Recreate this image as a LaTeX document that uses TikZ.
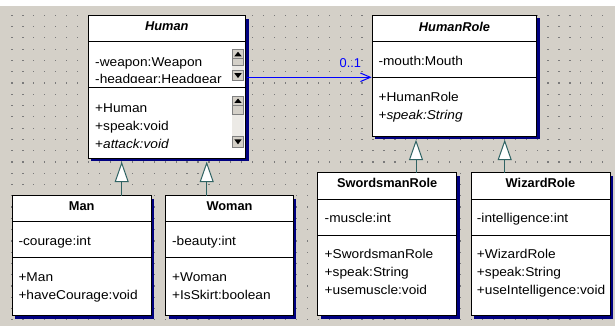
\documentclass[tikz,border=0pt]{standalone}
\usepackage{fontspec}
\setmainfont{Liberation Sans}[FakeStretch=1.07]
\newfontfamily\titlefont{Liberation Sans}
\usetikzlibrary{shadows,arrows.meta}
\definecolor{bg}{HTML}{D4D0C8}
\definecolor{shad}{HTML}{000080}
\definecolor{gencol}{HTML}{2F6363}
\definecolor{dotc}{HTML}{7A7A7A}
\definecolor{track}{HTML}{ECEAE6}
\definecolor{btnedge}{HTML}{808080}
\definecolor{assoccol}{HTML}{0000FF}
\begin{document}
\begin{tikzpicture}[x=1pt,y=-1pt,
  cls/.style={draw=black, line width=1pt, fill=white, anchor=north west, inner sep=0pt, outer sep=0pt,
    general shadow={fill=shad, shadow xshift=3pt, shadow yshift=-3pt}},
  divl/.style={draw=black, line width=1pt},
  txt/.style={anchor=base west, inner sep=0pt, font=\fontsize{12.8}{14}\selectfont},
  ttl/.style={anchor=base, inner sep=0pt, font=\titlefont\fontsize{12.8}{14}\selectfont\bfseries},
  gen/.style={draw=gencol, line width=1pt, shorten >=3.6pt,
    -{Triangle[fill=white, length=20.5pt, width=14pt]}},
  assoc/.style={draw=assoccol, line width=1pt, -{Straight Barb[length=10pt, width=8.5pt]}},
  btn/.style={fill=bg, draw=btnedge, line width=0.8pt},
  trk/.style={fill=track},
  glyph/.style={fill=black}
]
\useasboundingbox (0,0) rectangle (615,326);
\fill[white] (0,0) rectangle (615,326);
\fill[bg] (0,6) rectangle (615,326);
% grid of dots
\foreach \i in {0,...,54}{
  \foreach \j in {0,...,27}{
    \fill[dotc] ({12+\i*10.94-0.6},{15.3+\j*11.28-0.6}) rectangle ++(1.2,1.2);
  }
}

% ---------- Human ----------
\node[cls, minimum width=157.7pt, minimum height=142.3pt] (human) at (88,15.7) {};
\draw[divl] (88,41.7) -- (245.7,41.7);
\draw[divl] (88,88) -- (245.7,88);
\node[ttl] (humant) at (166.85,30.8) {\itshape Human};
\begin{scope}
  \clip (89,42.5) rectangle (232,82.7);
  \node[txt] (h1) at (95,66.2) {-weapon:Weapon};
  \node[txt] (h2) at (95,83.9) {-headgear:Headgear};
\end{scope}
\begin{scope}
  \clip (89,88.5) rectangle (232,147.3);
  \node[txt] (h3) at (95,113) {+Human};
  \node[txt] (h4) at (95,130.7) {+speak:void};
  \node[txt] (h5) at (95,148.4) {+\textit{attack:void}};
\end{scope}
% scrollbars
\fill[trk] (232.3,65) rectangle (243.7,70.7);
\draw[btn] (232.3,49.3) rectangle (243.7,58.3);
\draw[btn] (232.3,58.3) rectangle (243.7,65);
\draw[btn] (232.3,70.7) rectangle (243.7,80.7);
\fill[glyph] (234.3,56.3) -- (241.7,56.3) -- (238,51.8) -- cycle;
\fill[glyph] (234.3,73.2) -- (241.7,73.2) -- (238,78) -- cycle;
\fill[trk] (232.3,114) rectangle (243.7,136.7);
\draw[btn] (232.3,96) rectangle (243.7,105);
\draw[btn] (232.3,105) rectangle (243.7,114);
\draw[btn] (232.3,136.7) rectangle (243.7,147.3);
\fill[glyph] (234.3,103) -- (241.7,103) -- (238,98.5) -- cycle;
\fill[glyph] (234.3,139.3) -- (241.7,139.3) -- (238,144.3) -- cycle;

% ---------- HumanRole ----------
\node[cls, minimum width=164.4pt, minimum height=120.7pt] (role) at (372.3,15.3) {};
\draw[divl] (372.3,41.7) -- (536.7,41.7);
\draw[divl] (372.3,77.3) -- (536.7,77.3);
\node[ttl] (rolet) at (454.5,31.1) {\itshape HumanRole};
\node[txt] (r1) at (378.3,65.3) {-mouth:Mouth};
\node[txt] (r2) at (378.3,101.5) {+HumanRole};
\node[txt] (r3) at (378.3,119.5) {+\textit{speak:String}};

% ---------- Man ----------
\node[cls, minimum width=138.7pt, minimum height=120pt] (man) at (12.3,195.7) {};
\draw[divl] (12.3,221) -- (151,221);
\draw[divl] (12.3,257.7) -- (151,257.7);
\node[ttl] (mant) at (81.65,210.6) {Man};
\node[txt] (m1) at (18.3,245.2) {-courage:int};
\node[txt] (m2) at (18.3,281.8) {+Man};
\node[txt] (m3) at (18.3,299.6) {+haveCourage:void};

% ---------- Woman ----------
\node[cls, minimum width=127.6pt, minimum height=120pt] (woman) at (165.7,195.7) {};
\draw[divl] (165.7,221) -- (293.3,221);
\draw[divl] (165.7,257.7) -- (293.3,257.7);
\node[ttl] (womant) at (229.5,210.6) {Woman};
\node[txt] (w1) at (171.9,245.2) {-beauty:int};
\node[txt] (w2) at (171.9,281.8) {+Woman};
\node[txt] (w3) at (171.9,299.6) {+IsSkirt:boolean};

% ---------- SwordsmanRole ----------
\node[cls, minimum width=139pt, minimum height=143pt] (sword) at (317.7,172.7) {};
\draw[divl] (317.7,199.3) -- (456.7,199.3);
\draw[divl] (317.7,235) -- (456.7,235);
\node[ttl] (swordt) at (387.2,187.9) {SwordsmanRole};
\node[txt] (s1) at (324.5,222.6) {-muscle:int};
\node[txt] (s2) at (324.5,258.4) {+SwordsmanRole};
\node[txt] (s3) at (324.5,276.6) {+speak:String};
\node[txt] (s4) at (324.5,294.8) {+usemuscle:void};

% ---------- WizardRole ----------
\node[cls, minimum width=139pt, minimum height=143pt] (wizard) at (471,172.7) {};
\draw[divl] (471,199.3) -- (610,199.3);
\draw[divl] (471,235) -- (610,235);
\node[ttl] (wizardt) at (540.5,187.9) {WizardRole};
\node[txt] (z1) at (476.7,222.6) {-intelligence:int};
\node[txt] (z2) at (476.7,258.4) {+WizardRole};
\node[txt] (z3) at (476.7,276.6) {+speak:String};
\node[txt] (z4) at (476.7,294.8) {+useIntelligence:void};

% ---------- connectors ----------
\coordinate (gx1) at (121.7,0);
\coordinate (gx2) at (206.7,0);
\coordinate (gx3) at (416,0);
\coordinate (gx4) at (504.7,0);
\coordinate (ay) at (0,77.3);
\draw[gen] (man.north -| gx1) -- (human.south -| gx1);
\draw[gen] (woman.north -| gx2) -- (human.south -| gx2);
\draw[gen] (sword.north -| gx3) -- (role.south -| gx3);
\draw[gen] (wizard.north -| gx4) -- (role.south -| gx4);
\draw[assoc] ([xshift=1pt]human.east |- ay) -- ([xshift=-0.6pt]role.west |- ay);
\node[anchor=base east, inner sep=0pt, text=assoccol, font=\titlefont\fontsize{12.8}{14}\selectfont] (mult) at (361.2,68) {0..1};
\end{tikzpicture}
\end{document}
